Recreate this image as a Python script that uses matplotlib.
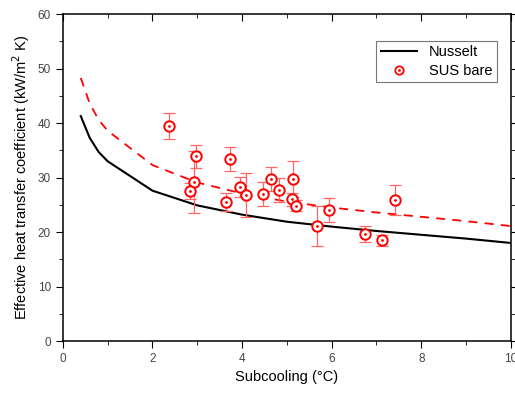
import numpy as np
import matplotlib.pyplot as plt
from matplotlib.lines import Line2D
from matplotlib.ticker import MultipleLocator

plt.rcParams['font.family'] = ['Liberation Sans', 'DejaVu Sans']

# Nusselt prediction (solid) and scaled prediction (dashed)
nu_x = [0.4, 0.6, 0.8, 1.0, 2.0, 3.0, 4.0, 5.0, 6.0, 7.0, 8.0, 9.0, 10.0]
nu_y = [41.3, 37.3, 34.7, 33.0, 27.6, 24.9, 23.2, 21.9, 21.0, 20.2, 19.5, 18.8, 18.0]
dash_y = [48.3, 43.6, 40.6, 38.6, 32.3, 29.1, 27.1, 25.6, 24.5, 23.6, 22.8, 22.0, 21.1]

# SUS bare measurements
sus_x = [2.37, 2.97, 2.92, 2.83, 3.64, 3.73, 3.95, 4.08, 4.47, 4.64, 4.82,
         5.13, 5.11, 5.20, 5.67, 5.94, 6.74, 7.12, 7.41]
sus_y = [39.4, 33.9, 29.2, 27.5, 25.5, 33.4, 28.3, 26.8, 27.0, 29.7, 27.7,
         29.7, 26.0, 24.8, 21.1, 24.0, 19.6, 18.5, 25.9]
sus_err = [2.4, 2.1, 5.7, 1.5, 1.6, 2.2, 1.8, 4.0, 2.2, 2.2, 2.2,
           3.3, 1.2, 1.0, 3.6, 2.2, 1.5, 1.0, 2.8]

fig = plt.figure(figsize=(5.15, 3.94), dpi=100)
ax = fig.add_axes([0.122, 0.1345, 0.870, 0.8295])

line_nu, = ax.plot(nu_x, nu_y, color='black', lw=1.5)
ax.plot(nu_x, dash_y, color='red', lw=1.3, ls=(0, (5, 4)))

ax.errorbar(sus_x, sus_y, yerr=sus_err, fmt='none', ecolor='#ff6666',
            elinewidth=0.9, capsize=4, capthick=0.9)
ax.plot(sus_x, sus_y, 'o', ms=7.5, mfc='white', mec='red', mew=1.4, ls='none')
ax.plot(sus_x, sus_y, '.', ms=2, color='red', ls='none')

ax.set_xlim(0, 10)
ax.set_ylim(0, 60)
ax.xaxis.set_major_locator(MultipleLocator(2))
ax.xaxis.set_minor_locator(MultipleLocator(1))
ax.yaxis.set_major_locator(MultipleLocator(10))
ax.yaxis.set_minor_locator(MultipleLocator(5))
ax.tick_params(which='both', direction='out', labelsize=8.5,
               labelcolor='#444444')
ax.tick_params(which='major', length=5)
ax.tick_params(which='minor', length=3)
ax.tick_params(axis='x', which='both', top=True)
ax.tick_params(axis='y', which='both', right=True)
for t in ax.xaxis.get_ticklines(minor=False)[1::2] + ax.xaxis.get_ticklines(minor=True)[1::2]:
    t.set_marker(3)  # top ticks pointing in
for t in ax.yaxis.get_ticklines(minor=False)[1::2] + ax.yaxis.get_ticklines(minor=True)[1::2]:
    t.set_marker(1)  # right ticks pointing in
for s in ax.spines.values():
    s.set_linewidth(1.1)

ax.set_xlabel('Subcooling (°C)', fontsize=10.5)
ax.set_ylabel('Effective heat transfer coefficient (kW/m$^2$ K)', fontsize=10.5)

circ = Line2D([], [], marker='o', ms=6, mfc='white', mec='red', mew=1.3, ls='none')
dot = Line2D([], [], marker='.', ms=2, color='red', ls='none')
leg = ax.legend([line_nu, (circ, dot)], ['Nusselt', 'SUS bare'],
                loc='upper right', bbox_to_anchor=(0.985, 0.94),
                fontsize=10.5, frameon=True, fancybox=False,
                edgecolor='#555555', handlelength=2.5, borderpad=0.3,
                labelspacing=0.3)
leg.get_frame().set_linewidth(0.8)

fig.savefig('out.png', dpi=100)
